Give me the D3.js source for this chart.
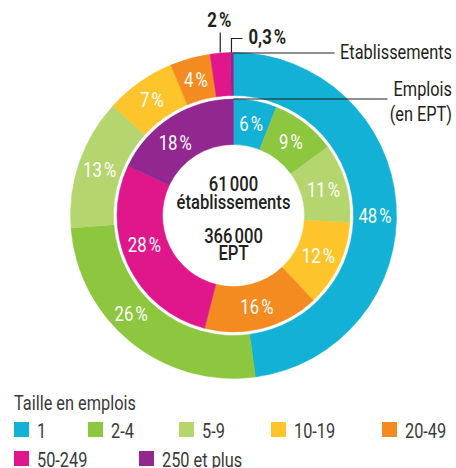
<!DOCTYPE html>
<html><head><meta charset="utf-8">
<script src="https://cdn.jsdelivr.net/npm/d3@7"></script>
<style>
html,body{margin:0;padding:0;background:#fff;}
svg{display:block;}
text{font-family:Roboto,"Liberation Sans",sans-serif;}
</style></head>
<body>
<script>
const categories = ["1","2-4","5-9","10-19","20-49","50-249","250 et plus"];
const colors = ["#12b1d5","#8dc63f","#b5d56f","#fdc52b","#f38b20","#e0168b","#92278f"];
const etablissements = [48,26,13,7,4,2,0.3];
const etabLabels = ["48\u202F%","26\u202F%","13\u202F%","7\u202F%","4\u202F%","2\u202F%","0,3\u202F%"];
const emplois = [6,9,11,12,16,28,18];
const emploisLabels = ["6\u202F%","9\u202F%","11\u202F%","12\u202F%","16\u202F%","28\u202F%","18\u202F%"];
const centerLines = ["61\u202F000","établissements","366\u202F000","EPT"];
const legendTitle = "Taille en emplois";
const ringNames = ["Etablissements","Emplois","(en EPT)"];

// layout (label angle nudges in degrees, not data)
const outerNudge=[4,7.4,0,0,0,0,0], innerNudge=[0,0,0,0,0,7,-6];

const W=456,H=468, cx=233.5, cy=215.5, ink="#231f20", grey="#3a3a3a";
const svg=d3.select("body").append("svg").attr("width",W).attr("height",H);

const REG=20, BOLD=19.5;
function measure(str,size,weight){
  const t=svg.append("text").attr("font-size",size).attr("font-weight",weight).text(str);
  const w=t.node().getComputedTextLength(); t.remove(); return w;
}
const sReg=Math.min(1,112/measure("Etablissements",REG,"normal"));
const sMed=Math.min(1,114/measure("établissements",BOLD,"500"));
const sBold=Math.min(1,115/measure("établissements",BOLD,"bold"));

function T(parent,x,y,str,o){
  o=o||{};
  const w=o.weight||"normal";
  const s=w==="bold"?sBold:(w==="500"?sMed:sReg);
  return parent.append("text")
    .attr("transform",`translate(${x},${y}) scale(${s},1)`)
    .attr("text-anchor",o.anchor||"start")
    .attr("font-size",o.size||REG).attr("font-weight",w)
    .attr("fill",o.fill||ink).text(str);
}

const g=svg.append("g").attr("transform",`translate(${cx},${cy})`);
const pie=d3.pie().sort(null).value(d=>d.v);
const rO=[120,163], rI=[71,116.5];
const outerArc=d3.arc().innerRadius(rO[0]).outerRadius(rO[1]);
const innerArc=d3.arc().innerRadius(rI[0]).outerRadius(rI[1]);
const outerData=pie(categories.map((c,i)=>({c,i,v:etablissements[i],l:etabLabels[i]})));
const innerData=pie(categories.map((c,i)=>({c,i,v:emplois[i],l:emploisLabels[i]})));

g.selectAll("path.o").data(outerData).join("path").attr("class","o")
 .attr("d",outerArc).attr("fill",d=>colors[d.data.i]).attr("stroke",d=>colors[d.data.i]).attr("stroke-width",0.5);
g.selectAll("path.i").data(innerData).join("path").attr("class","i")
 .attr("d",innerArc).attr("fill",d=>colors[d.data.i]).attr("stroke",d=>colors[d.data.i]).attr("stroke-width",0.5);

function labelAt(d,r,nudge){
  const a=(d.startAngle+d.endAngle)/2+nudge*Math.PI/180;
  return [Math.sin(a)*r,-Math.cos(a)*r];
}
outerData.filter(d=>d.data.v>=4).forEach(d=>{
  const [x,y]=labelAt(d,(rO[0]+rO[1])/2,outerNudge[d.data.i]);
  T(g,x,y+7.5,d.data.l,{anchor:"middle",size:20.5,fill:"#fff"});
});
innerData.forEach(d=>{
  const [x,y]=labelAt(d,(rI[0]+rI[1])/2,innerNudge[d.data.i]);
  T(g,x,y+7.5,d.data.l,{anchor:"middle",size:20.5,fill:"#fff"});
});

// small slice callouts
const a2=outerData[5], a03=outerData[6];
const x2=labelAt(a2,rO[1],0)[0];
g.append("line").attr("x1",x2).attr("x2",x2).attr("y1",-rO[1]).attr("y2",-183).attr("stroke",ink).attr("stroke-width",1.2);
T(g,x2-1,-188.5,a2.data.l,{anchor:"middle",size:BOLD,weight:"bold"});
const x03=labelAt(a03,rO[1],0)[0]-0.5;
g.append("path").attr("d",`M${x03},${-rO[1]}V-177H${x03+11}`).attr("fill","none").attr("stroke",ink).attr("stroke-width",1.2);
T(g,x03+17,-172,a03.data.l,{size:BOLD,weight:"bold"});

// ring annotations
g.append("line").attr("x1",0).attr("x2",101).attr("y1",-rO[1]+0.5).attr("y2",-rO[1]+0.5).attr("stroke",ink).attr("stroke-width",1.2);
T(svg,452,59,ringNames[0],{anchor:"end"});
g.append("line").attr("x1",0).attr("x2",154).attr("y1",-rI[1]).attr("y2",-rI[1]).attr("stroke",ink).attr("stroke-width",1.2);
T(svg,452,96,ringNames[1],{anchor:"end"});
T(svg,452,121,ringNames[2],{anchor:"end"});

// center text
const cys=[-25,-6.5,27,44.5];
centerLines.forEach((t,i)=>T(g,0,cys[i],t,{anchor:"middle",size:BOLD,weight:"500"}));

// legend
T(svg,14,410,legendTitle,{fill:grey});
const lx=[14,88,179,271,382,14,139], ly=[422,422,422,422,422,451,451];
categories.forEach((c,i)=>{
  svg.append("rect").attr("x",lx[i]).attr("y",ly[i]).attr("width",15).attr("height",15).attr("fill",colors[i]);
  T(svg,lx[i]+23,ly[i]+15.5,c,{fill:grey});
});
</script>
</body></html>
